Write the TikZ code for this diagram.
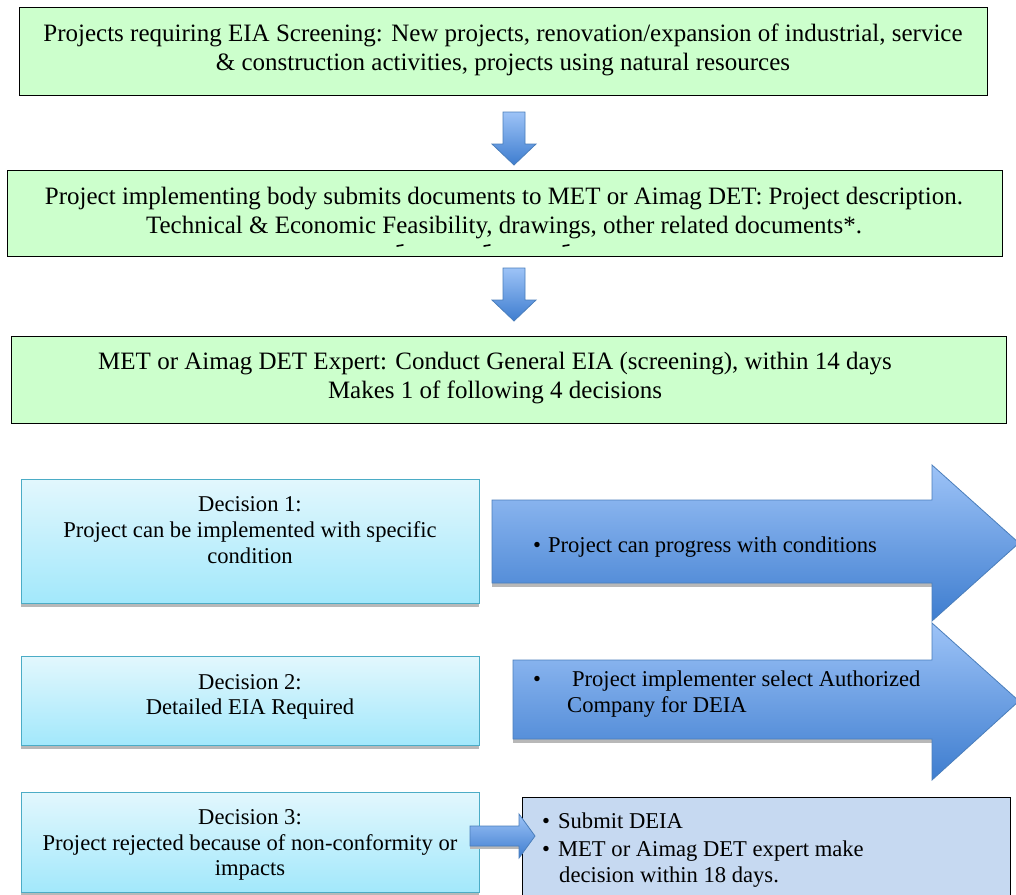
\documentclass[tikz,border=0pt]{standalone}
\usepackage{fontspec}
\setmainfont{Liberation Serif}
\definecolor{boxgreen}{HTML}{CCFFCC}
\definecolor{cyantop}{HTML}{E2F7FD}
\definecolor{cyanbot}{HTML}{A2E8FB}
\definecolor{cyanedge}{HTML}{4BACC6}
\definecolor{bluetop}{HTML}{9DC3F7}
\definecolor{bluebot}{HTML}{3E7DCF}
\definecolor{blueedge}{HTML}{4A7EBB}
\definecolor{paleblue}{HTML}{C6D9F1}
\definecolor{shadowgray}{HTML}{B8B8B8}
\begin{document}
\begin{tikzpicture}[x=1pt,y=-1pt,
  gbox/.style={draw=black, line width=1.3pt, fill=boxgreen, anchor=north west, inner sep=0pt},
  dbox/.style={draw=cyanedge, line width=1.1pt, top color=cyantop, bottom color=cyanbot, anchor=north west, inner sep=0pt},
  fbox/.style={draw=black, line width=1.3pt, fill=paleblue, anchor=north west, inner sep=0pt},
  barrow/.style={draw=blueedge, line width=0.8pt, top color=bluetop, bottom color=bluebot},
  shadow/.style={fill=shadowgray},
  maintext/.style={font=\fontsize{25}{29.5}\selectfont, align=center, inner sep=0pt},
  dtext/.style={font=\fontsize{22.6}{25.7}\selectfont, align=center, inner sep=0pt},
  btext/.style={font=\fontsize{22.6}{26}\selectfont, align=left, inner sep=0pt, anchor=west},
]
\useasboundingbox (0,0) rectangle (1016,894);

% top green boxes
\node[gbox, minimum width=968pt, minimum height=88pt] (b1) at (19,7) {};
\node[maintext] (t1) at (503,50) {Projects requiring EIA Screening: New projects, renovation/expansion of industrial, service\\ \& construction activities, projects using natural resources};

\node[gbox, minimum width=995pt, minimum height=86pt] (b2) at (7,170) {};
\node[maintext] (t2) at (504,213) {Project implementing body submits documents to MET or Aimag DET: Project description.\\ Technical \& Economic Feasibility, drawings, other related documents*.};
\foreach \mx in {400,487,566}{
  \draw[line width=1.6pt, line cap=round] (\mx-3,246) -- (\mx+3,245);
}

\node[gbox, minimum width=995pt, minimum height=87pt] (b3) at (11,336) {};
\node[maintext] (t3) at (495,378) {MET or Aimag DET Expert: Conduct General EIA (screening), within 14 days\\ Makes 1 of following 4 decisions};

% down arrows
\path[barrow] (503,112) -- (525,112) -- (525,144) -- (536,144) -- (514,165) -- (492,144) -- (503,144) -- cycle;
\path[barrow] (503,268) -- (525,268) -- (525,300) -- (536,300) -- (514,321) -- (492,300) -- (503,300) -- cycle;

% big arrows
\fill[shadow] (492,583) rectangle (932,587);
\path[barrow] (492,500) -- (932,500) -- (932,465) -- (1019,543) -- (932,621) -- (932,583) -- (492,583) -- cycle;
\fill[shadow] (513,739) rectangle (932,743);
\path[barrow] (513,660) -- (932,660) -- (932,623) -- (1019,701) -- (932,780) -- (932,739) -- (513,739) -- cycle;

\node[btext] (a1) at (533,547) {\textbullet\hspace{7pt}Project can progress with conditions};
\node[btext] (a2) at (533,694) {\textbullet\hspace{31pt}Project implementer select Authorized\\ \hspace{34pt}Company for DEIA};

% decision boxes
\fill[shadow] (21,603) rectangle (479,607);
\node[dbox, minimum width=458pt, minimum height=124pt] (d1) at (21,479) {};
\node[dtext] (dt1) at (250,530) {Decision 1:\\ Project can be implemented with specific\\ condition};

\fill[shadow] (21,745) rectangle (479,749);
\node[dbox, minimum width=458pt, minimum height=89pt] (d2) at (21,656) {};
\node[dtext] (dt2) at (250,697) {Decision 2:\\ Detailed EIA Required};

\fill[shadow] (21,892) rectangle (479,896);
\node[dbox, minimum width=458pt, minimum height=100pt] (d3) at (21,792) {};
\node[dtext] (dt3) at (250,845) {Decision 3:\\ Project rejected because of non-conformity or\\ impacts};

% final box
\node[fbox, minimum width=488pt, minimum height=110pt] (f) at (522,797) {};
\node[btext] (ft) at (542,850) {\textbullet\hspace{8pt}Submit DEIA\\[2pt] \textbullet\hspace{8pt}MET or Aimag DET expert make\\ \hspace{17pt}decision within 18 days.};

% small arrow
\fill[shadow] (470,846) rectangle (519,849);
\path[barrow] (470,826) -- (519,826) -- (519,814) -- (535,836) -- (519,858) -- (519,846) -- (470,846) -- cycle;
\end{tikzpicture}
\end{document}
